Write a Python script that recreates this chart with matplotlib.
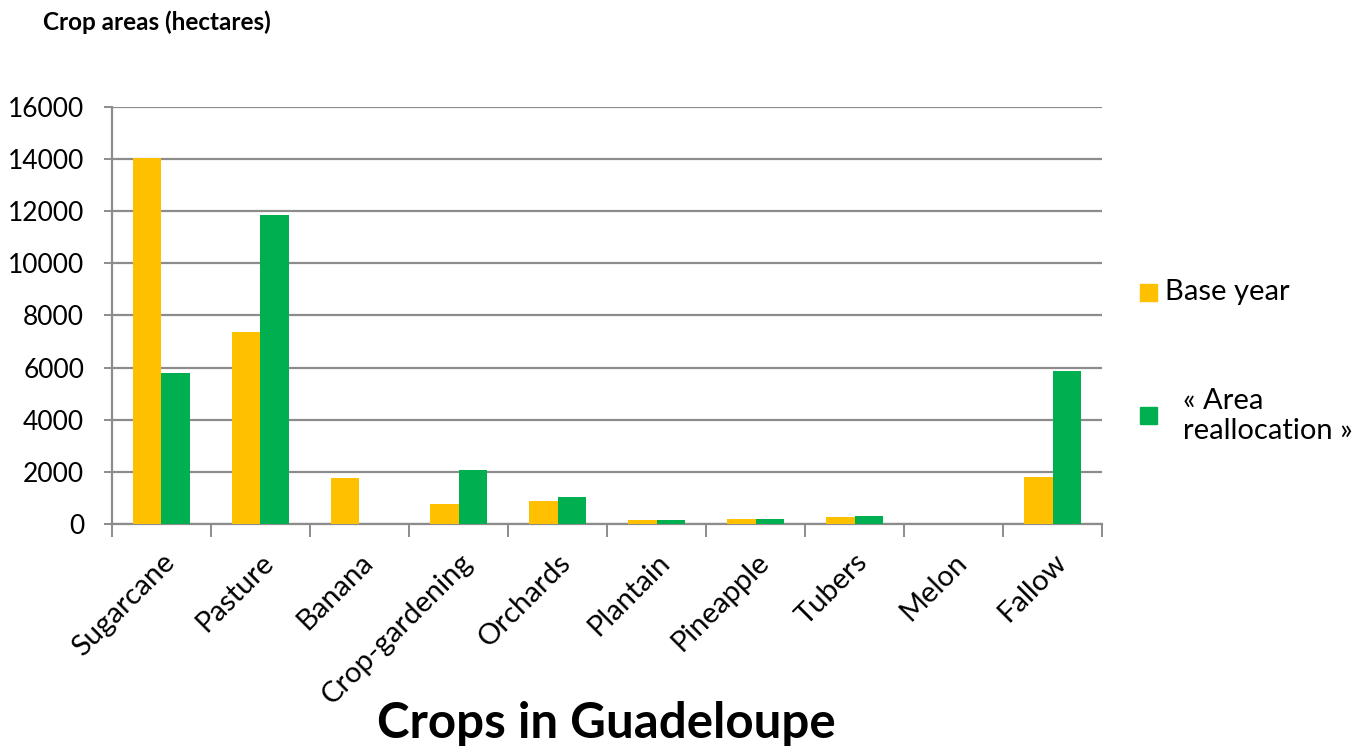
import numpy as np
import matplotlib
matplotlib.use("Agg")
import matplotlib.pyplot as plt
from matplotlib.patches import Rectangle

# ---------------------------------------------------------------------------
# Data (hectares)
# ---------------------------------------------------------------------------
crops = ["Sugarcane", "Pasture", "Banana", "Crop-gardening", "Orchards",
         "Plantain", "Pineapple", "Tubers", "Melon", "Fallow"]
base_year = [14050, 7350, 1750, 750, 880, 150, 190, 280, 0, 1820]
reallocation = [5780, 11850, 0, 2070, 1020, 140, 190, 300, 0, 5870]
yticks = [0, 2000, 4000, 6000, 8000, 10000, 12000, 14000, 16000]
series_names = ["Base year", "« Area\nreallocation »"]

YELLOW = "#FFC000"
GREEN = "#00B050"
GRID = "#8C8C8C"

plt.rcParams["font.family"] = ["Lato", "DejaVu Sans"]

W, H = 1362, 748
fig = plt.figure(figsize=(W / 100, H / 100), dpi=100)
ax = fig.add_axes([0.0822, 0.2995, 0.727, 0.5575])

x = np.arange(len(crops))
w = 0.285
ax.bar(x - w / 2, base_year, width=w, color=YELLOW, zorder=3)
ax.bar(x + w / 2, reallocation, width=w, color=GREEN, zorder=3)

ax.set_xlim(-0.5, len(crops) - 0.5)
ax.set_ylim(0, 16000)
ax.set_yticks(yticks)
ax.set_yticklabels([str(v) for v in yticks], fontsize=19)
ax.yaxis.grid(True, color=GRID, lw=1.6, zorder=0)
ax.tick_params(axis="y", length=6, width=1.4, color=GRID, pad=14)

# category boundary ticks (major) and centred labels (minor)
ax.set_xticks(np.arange(len(crops) + 1) - 0.5)
ax.set_xticklabels([])
ax.tick_params(axis="x", which="major", length=9, width=1.4, color=GRID)
ax.set_xticks(x, minor=True)
ax.set_xticklabels(crops, minor=True, rotation=45, ha="right",
                   rotation_mode="anchor", fontsize=21)
ax.tick_params(axis="x", which="minor", length=0, pad=18)

for side in ("top", "right"):
    ax.spines[side].set_visible(False)
for side in ("left", "bottom"):
    ax.spines[side].set_color(GRID)
    ax.spines[side].set_linewidth(1.6)

fig.text(43 / W, 1 - 22 / H, "Crop areas (hectares)", fontsize=17.5,
         fontweight="bold", va="center", ha="left")
fig.text(606 / W, 1 - 724 / H, "Crops in Guadeloupe", fontsize=35.5,
         fontweight="bold", ha="center", va="center")

# legend drawn by hand: marker squares and labels on the right
sq = 17
for color, cy in ((YELLOW, 292.5), (GREEN, 415.5)):
    fig.patches.append(Rectangle((1140 / W, 1 - (cy + sq / 2) / H),
                                 sq / W, sq / H, color=color,
                                 transform=fig.transFigure))
fig.text(1165 / W, 1 - 292 / H, series_names[0], fontsize=21,
         ha="left", va="center")
fig.text(1183 / W, 1 - 416 / H, series_names[1], fontsize=21,
         ha="left", va="center", linespacing=1.2)

fig.savefig("out.png", dpi=100)
